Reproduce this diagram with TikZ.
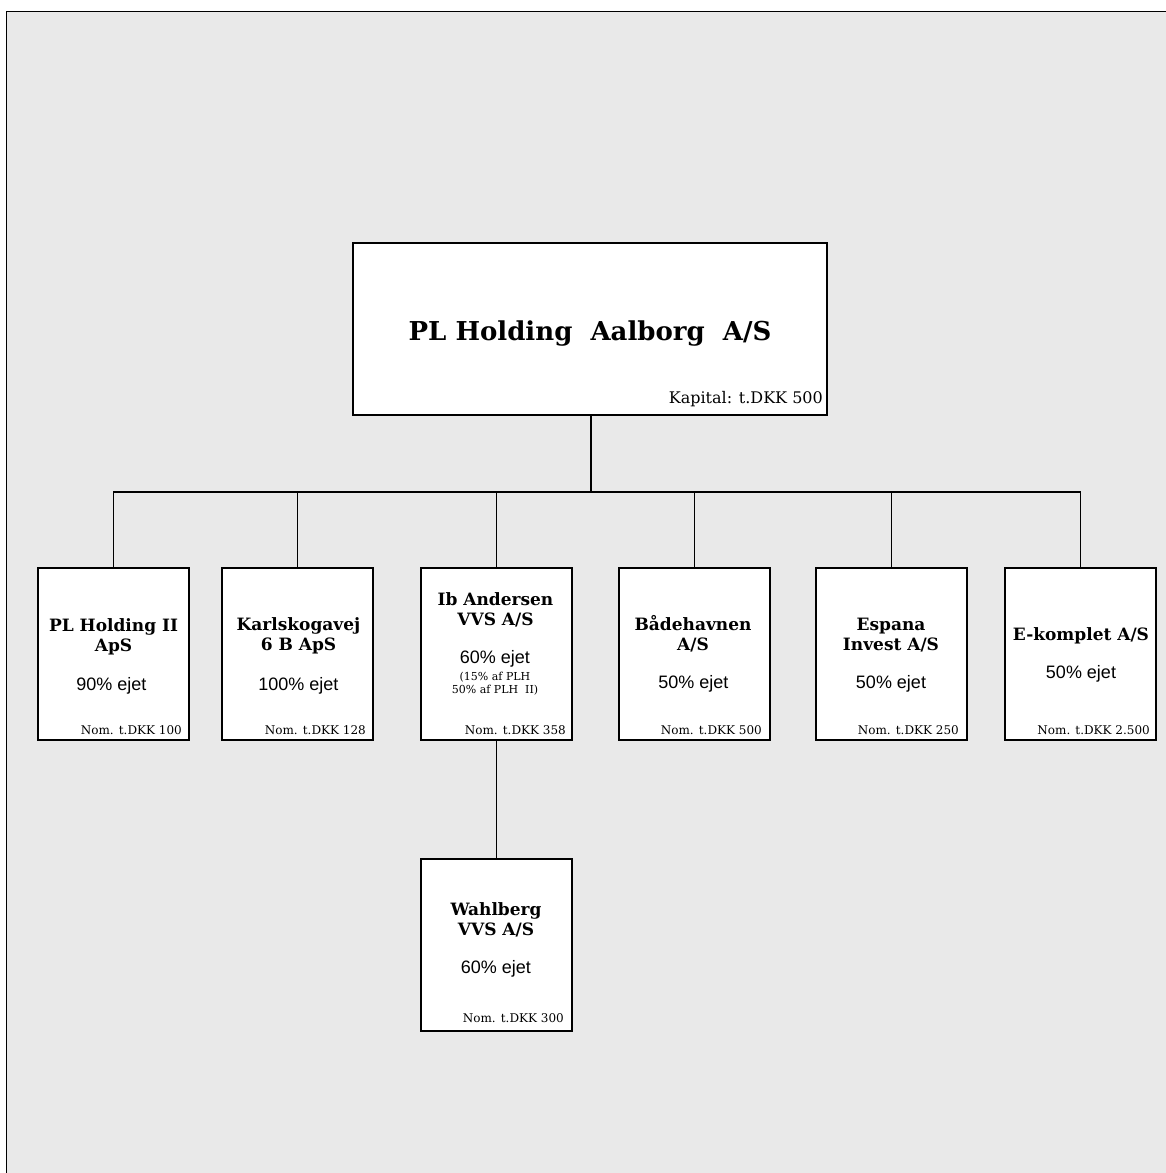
\documentclass[tikz,border=0pt]{standalone}
\usepackage{fontspec}
\setmainfont{DejaVu Serif}
\newfontfamily\ejetfont{Liberation Sans}
\definecolor{baggrund}{RGB}{233,233,233}

\begin{document}
\begin{tikzpicture}[x=1pt, y=-1pt,
  firma/.style={draw, fill=white, line width=1.3pt, inner sep=0pt, minimum width=151pt, minimum height=172pt},
  navn/.style={font=\fontsize{17}{20}\selectfont\bfseries, align=center, anchor=base, inner sep=0pt},
  ejet/.style={font=\ejetfont\fontsize{18}{20}\selectfont, anchor=base, inner sep=0pt},
  nom/.style={font=\fontsize{12}{14}\selectfont, anchor=base east, inner sep=0pt},
  streg/.style={line width=1.2pt}]
\useasboundingbox (0,0) rectangle (1166,1173);
% baggrund
\fill[baggrund] (6.5,11.5) rectangle (1166,1173);
\draw[line width=1.3pt] (6.5,1173) -- (6.5,11.5) -- (1166,11.5);
% moderselskab
\node[firma, minimum width=474pt] (plh) at (590,329) {};
\node[font=\fontsize{26}{30}\selectfont\bfseries, anchor=base, inner sep=0pt] (plhnavn) at (590,340) {PL Holding\ \ Aalborg\ \ A/S};
\node[font=\fontsize{16}{18}\selectfont, anchor=base east, inner sep=0pt] (kapital) at (823,403) {Kapital: t.DKK 500};
% datterselskaber
\node[firma] (plh2) at (113.5,654) {};
\node[firma] (karl) at (297.5,654) {};
\node[firma] (iba) at (496.5,654) {};
\node[firma] (baade) at (694.5,654) {};
\node[firma] (espana) at (891.5,654) {};
\node[firma] (ekomp) at (1080.5,654) {};
\node[firma] (wahl) at (496.5,945) {};
% forbindelser
\coordinate (bus) at (591,492);
\draw[line width=2.6pt] (plh.south -| bus) -- (bus);
\draw[streg] (plh2.north) |- (bus) -| (ekomp.north);
\foreach \f in {karl, iba, baade, espana}
  \draw[streg] (\f.north) -- (\f.north |- bus);
\draw[streg] (iba.south) -- (wahl.north);
% tekster (base = sidste linje)
\node[navn] at (113.5,651) {PL Holding II\\ApS};
\node[ejet] at (111.5,690) {90\% ejet};
\node[nom] at (182,734) {Nom. t.DKK 100};
\node[navn] at (298.5,650) {Karlskogavej\\6 B ApS};
\node[ejet] at (298.5,690) {100\% ejet};
\node[nom] at (366,734) {Nom. t.DKK 128};
\node[navn] at (495.5,625) {Ib Andersen\\VVS A/S};
\node[ejet] at (495,663) {60\% ejet};
\node[font=\fontsize{11}{13}\selectfont, align=center, anchor=base, inner sep=0pt] at (495,693) {(15\% af PLH\\50\% af PLH\ \ II)};
\node[nom] at (566,734) {Nom. t.DKK 358};
\node[navn] at (693,650) {Bådehavnen\\A/S};
\node[ejet] at (693.5,688) {50\% ejet};
\node[nom] at (762,734) {Nom. t.DKK 500};
\node[navn] at (891,650) {Espana\\Invest A/S};
\node[ejet] at (891,688) {50\% ejet};
\node[nom] at (959,734) {Nom. t.DKK 250};
\node[navn] at (1081,640) {E-komplet A/S};
\node[ejet] at (1081,678) {50\% ejet};
\node[nom] at (1150,734) {Nom. t.DKK 2.500};
\node[navn] at (496,935) {Wahlberg\\VVS A/S};
\node[ejet] at (496,973) {60\% ejet};
\node[nom] at (564,1022) {Nom. t.DKK 300};
\end{tikzpicture}
\end{document}
